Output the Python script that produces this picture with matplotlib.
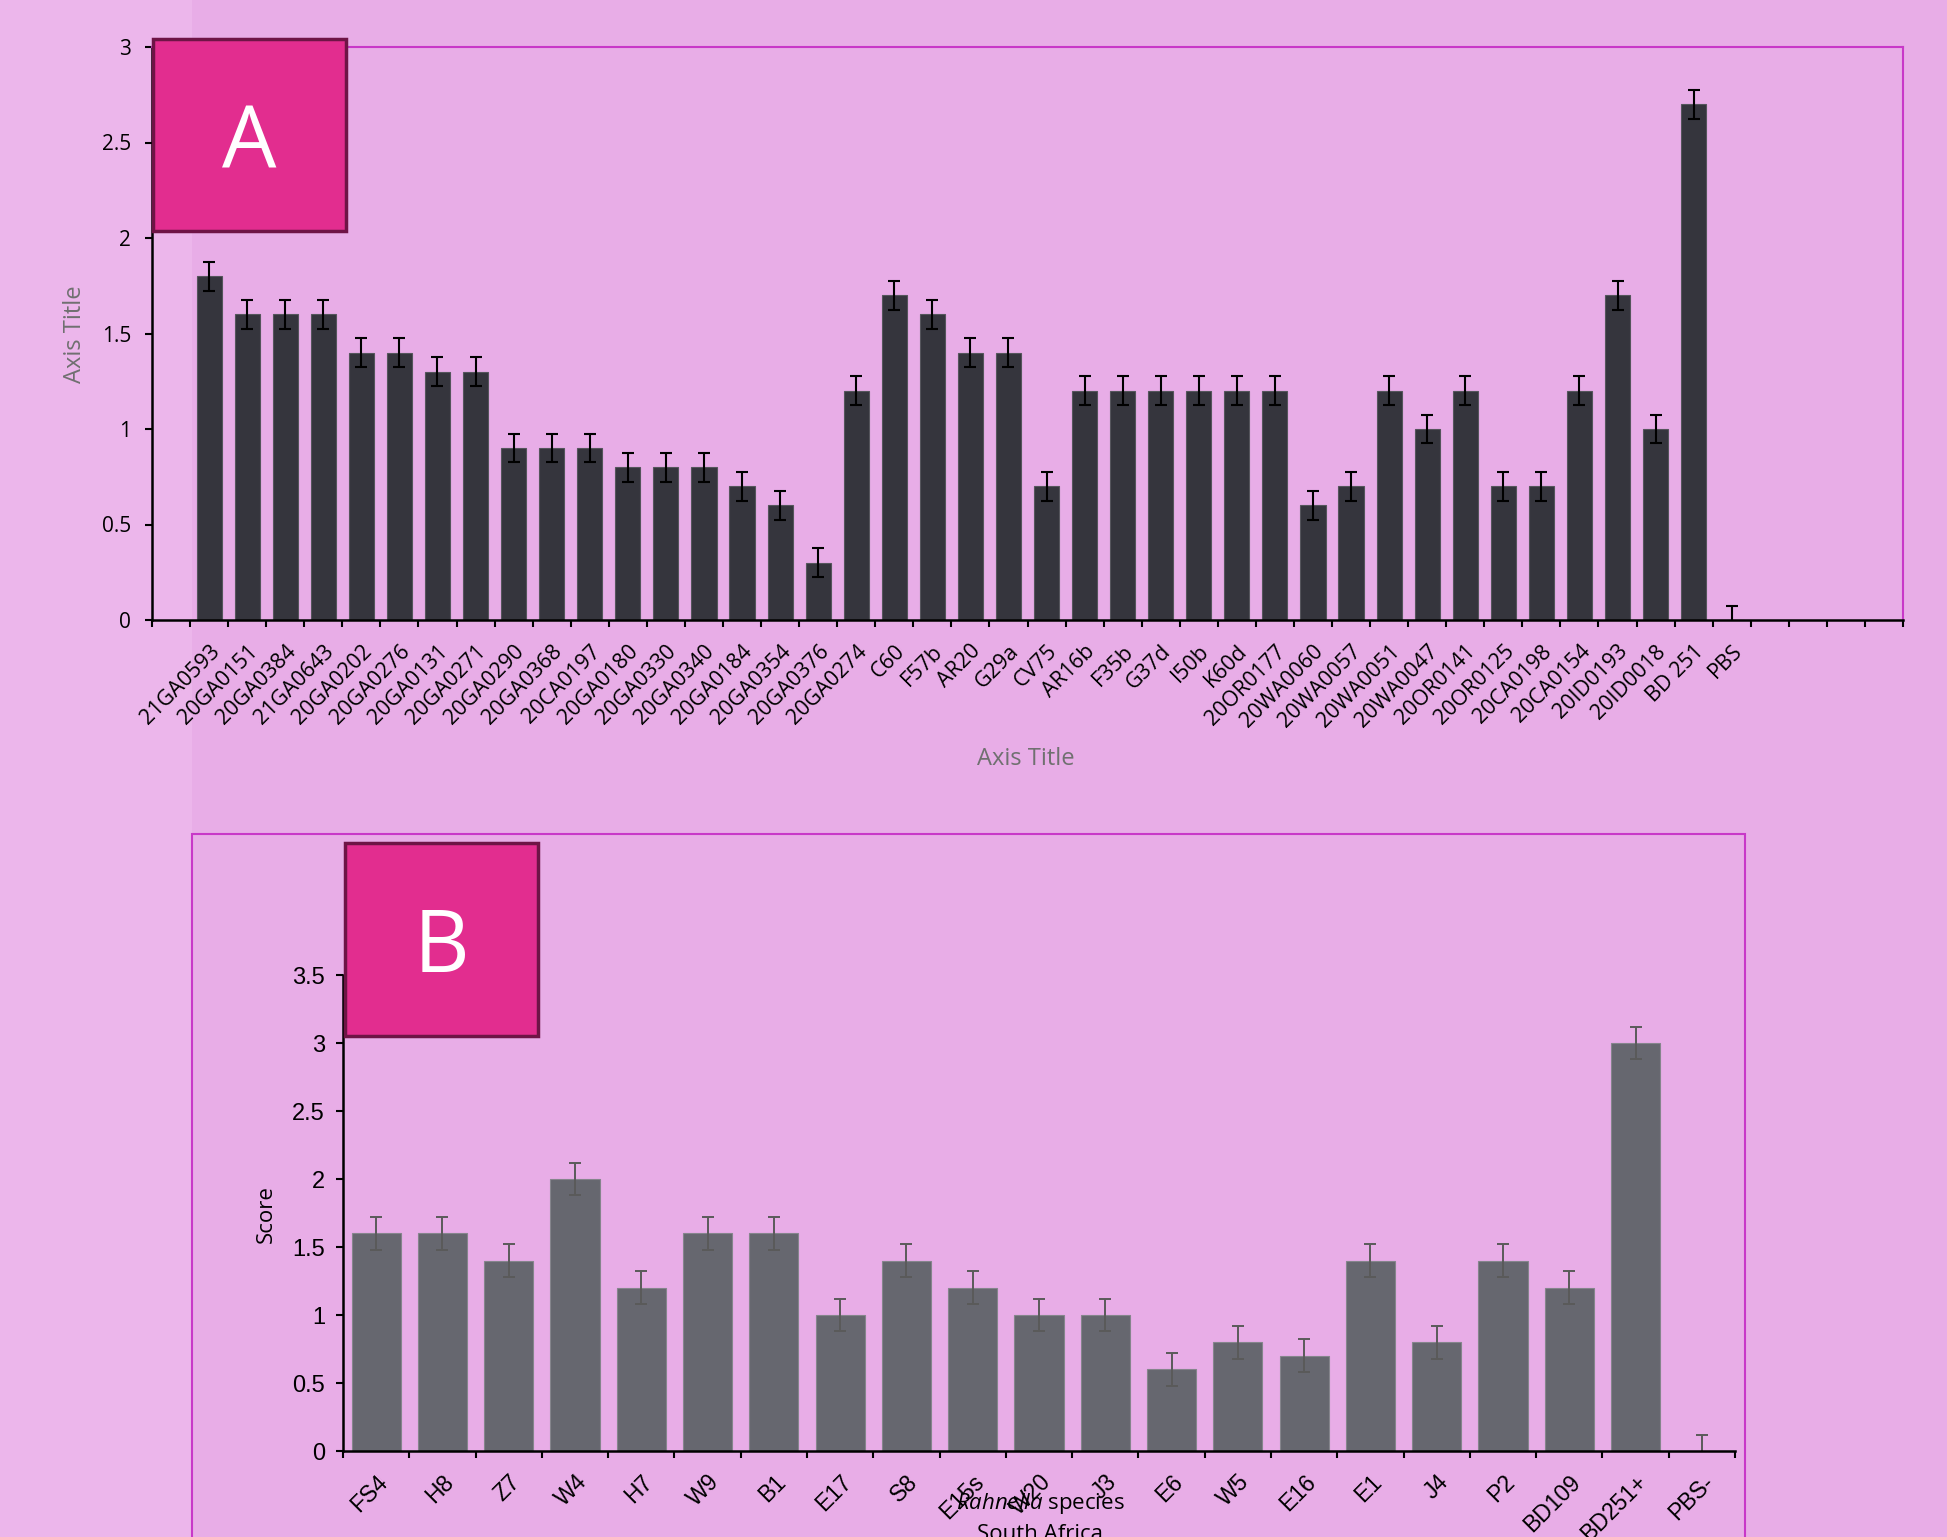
import numpy as np
import matplotlib.pyplot as plt
from matplotlib.patches import Rectangle

plt.rcParams['font.family'] = ['Open Sans', 'DejaVu Sans']
plt.rcParams['mathtext.fontset'] = 'custom'
plt.rcParams['mathtext.it'] = 'Open Sans:italic'
plt.rcParams['mathtext.rm'] = 'Open Sans'

# Panel A: isolate scores (one empty slot before, four after)
isolates_a = ['21GA0593', '20GA0151', '20GA0384', '21GA0643', '20GA0202', '20GA0276',
              '20GA0131', '20GA0271', '20GA0290', '20GA0368', '20CA0197', '20GA0180',
              '20GA0330', '20GA0340', '20GA0184', '20GA0354', '20GA0376', '20GA0274',
              'C60', 'F57b', 'AR20', 'G29a', 'CV75', 'AR16b', 'F35b', 'G37d', 'I50b',
              'K60d', '20OR0177', '20WA0060', '20WA0057', '20WA0051', '20WA0047',
              '20OR0141', '20OR0125', '20CA0198', '20CA0154', '20ID0193', '20ID0018',
              'BD 251', 'PBS']
scores_a = [1.8, 1.6, 1.6, 1.6, 1.4, 1.4, 1.3, 1.3, 0.9, 0.9, 0.9, 0.8, 0.8, 0.8, 0.7,
            0.6, 0.3, 1.2, 1.7, 1.6, 1.4, 1.4, 0.7, 1.2, 1.2, 1.2, 1.2, 1.2, 1.2, 0.6,
            0.7, 1.2, 1.0, 1.2, 0.7, 0.7, 1.2, 1.7, 1.0, 2.7, 0.0]
err_a = 0.075

# Panel B: Rahnella species from South Africa
species_b = ['FS4', 'H8', 'Z7', 'W4', 'H7', 'W9', 'B1', 'E17', 'S8', 'E15s', 'W20',
             'J3', 'E6', 'W5', 'E16', 'E1', 'J4', 'P2', 'BD109', 'BD251+', 'PBS-']
scores_b = [1.6, 1.6, 1.4, 2.0, 1.2, 1.6, 1.6, 1.0, 1.4, 1.2, 1.0, 1.0, 0.6, 0.8, 0.7,
            1.4, 0.8, 1.4, 1.2, 3.0, 0.0]
err_b = 0.12

W, H = 1947, 1537
fig = plt.figure(figsize=(W / 100, H / 100), dpi=100, facecolor='#E8ADE7')

def px_box(x0, y0, x1, y1):
    # pixel box (top-left origin) -> figure fraction [left, bottom, width, height]
    return [x0 / W, 1 - y1 / H, (x1 - x0) / W, (y1 - y0) / H]

# lighter strip on the left edge
fig.add_artist(Rectangle((0, 0), 192 / W, 1, transform=fig.transFigure,
                         facecolor='#ECB6EB', edgecolor='none', zorder=-1))

magenta = '#C838C8'
title_grey = '#707070'

# ---------------- panel A ----------------
axa = fig.add_axes(px_box(152, 47, 1903, 620))
axa.set_facecolor('none')
n_slots = len(isolates_a) + 5
xa = np.arange(len(isolates_a)) + 1
axa.bar(xa, scores_a, width=0.66, color='#35353D', edgecolor='#55555C', linewidth=0.8,
        yerr=err_a, error_kw=dict(ecolor='black', elinewidth=1.5, capsize=4.5, capthick=1.5))
axa.set_xlim(-0.5, n_slots - 0.5)
axa.set_ylim(0, 3)
axa.set_yticks(np.arange(0, 3.01, 0.5))
axa.set_yticklabels(['0', '0.5', '1', '1.5', '2', '2.5', '3'], fontsize=15)
labels_a = [''] + isolates_a + [''] * 4
axa.set_xticks(np.arange(n_slots))
axa.set_xticklabels(labels_a, rotation=45, ha='right', va='top',
                    rotation_mode='anchor', fontsize=15.5)
axa.set_xticks(np.arange(n_slots + 1) - 0.5, minor=True)
axa.tick_params(axis='x', which='major', length=0, pad=15)
axa.tick_params(axis='x', which='minor', length=5, width=1.5, direction='out')
axa.tick_params(axis='y', length=5, width=1.5, direction='out', pad=10)
for s in ['left', 'bottom']:
    axa.spines[s].set_linewidth(1.8)
    axa.spines[s].set_color('black')
for s in ['top', 'right']:
    axa.spines[s].set_linewidth(1.5)
    axa.spines[s].set_color(magenta)
fig.text(75 / W, 1 - 334 / H, 'Axis Title', rotation=90, ha='center', va='center',
         fontsize=17, color=title_grey)
fig.text(1026 / W, 1 - 759 / H, 'Axis Title', ha='center', va='center',
         fontsize=17, color=title_grey)

# ---------------- panel B ----------------
fig.add_artist(Rectangle((192 / W, -0.01), (1745 - 192) / W, 1 - 834 / H + 0.01,
                         transform=fig.transFigure, fill=False, edgecolor=magenta,
                         linewidth=1.5, zorder=0))
axb = fig.add_axes(px_box(343, 975, 1735, 1451))
axb.set_facecolor('none')
xb = np.arange(len(species_b))
axb.bar(xb, scores_b, width=0.74, color='#66676F', edgecolor='#85858C', linewidth=0.8,
        yerr=err_b, error_kw=dict(ecolor='#5A5A5A', elinewidth=1.4, capsize=4.5, capthick=1.4))
axb.set_xlim(-0.5, len(species_b) - 0.5)
axb.set_ylim(0, 3.5)
axb.set_yticks(np.arange(0, 3.51, 0.5))
axb.set_yticklabels(['0', '0.5', '1', '1.5', '2', '2.5', '3', '3.5'],
                    fontsize=17, family='Liberation Sans')
axb.set_xticks(xb)
axb.set_xticklabels(species_b, rotation=45, ha='right', va='top', rotation_mode='anchor',
                    fontsize=16.5, family='Liberation Sans')
axb.set_xticks(np.arange(len(species_b) + 1) - 0.5, minor=True)
axb.tick_params(axis='x', which='major', length=0, pad=14)
axb.tick_params(axis='x', which='minor', length=5, width=1.5, direction='out')
axb.tick_params(axis='y', length=5, width=1.5, direction='out', pad=8)
for s in ['top', 'right']:
    axb.spines[s].set_visible(False)
for s in ['left', 'bottom']:
    axb.spines[s].set_linewidth(1.8)
fig.text(266 / W, 1 - 1214 / H, 'Score', rotation=90, ha='center', va='center',
         fontsize=16, color='black')
fig.text(1040 / W, 1 - 1503 / H, r'$\it{Rahnella}$ species', ha='center', va='center',
         fontsize=16, color='black')
fig.text(1040 / W, 1 - 1524 / H, 'South Africa', ha='center', va='top',
         fontsize=16, color='black')

# panel letters
for letter, (x0, y0, x1, y1) in [('A', (153, 39, 346, 231)), ('B', (345, 843, 538, 1036))]:
    fig.add_artist(Rectangle((x0 / W, 1 - y1 / H), (x1 - x0) / W, (y1 - y0) / H,
                             transform=fig.transFigure, facecolor='#E22D8F',
                             edgecolor='#6E1446', linewidth=2.5, zorder=5))
    fig.text((x0 + x1) / 2 / W, 1 - ((y0 + y1) / 2 + 33) / H, letter, ha='center',
             va='baseline', fontsize=62, color='white', zorder=6)

fig.savefig('out.png', dpi=100, facecolor=fig.get_facecolor())
